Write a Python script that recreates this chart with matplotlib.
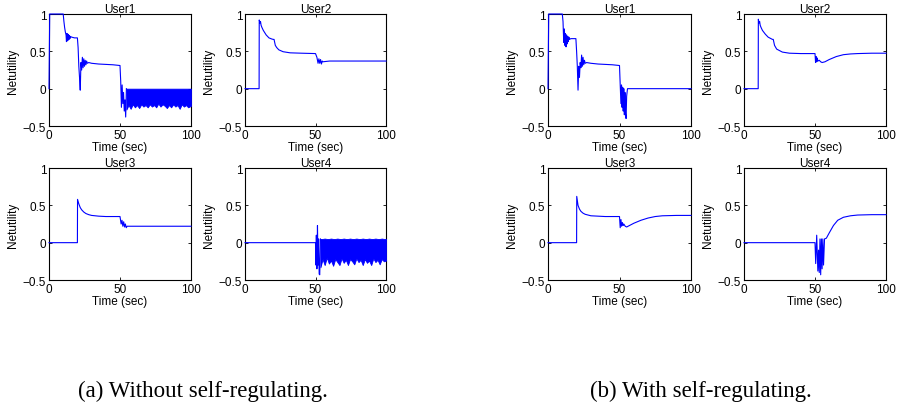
import matplotlib
matplotlib.use('Agg')
import matplotlib.pyplot as plt

# ---- data (time in sec, netutility) ----
# (a) without self-regulating
a_u1_t = [0, 0.5, 10, 10.5, 11, 11.5, 12, 12.3, 12.6, 12.9, 13.2, 13.5, 13.8, 14.1, 14.4, 14.7,
          15, 16, 18, 20, 20.5, 21, 21.5, 22, 22.5, 23, 23.5, 24, 24.5, 25, 25.5, 26, 26.5, 27,
          28, 30, 35, 40, 45, 50, 50.5, 51, 51.5, 52, 52.5, 53, 53.5, 54, 54.5]
a_u1_y = [0, 1, 1, 0.9, 0.82, 0.76, 0.72, 0.63, 0.74, 0.64, 0.73, 0.65, 0.72, 0.66, 0.71, 0.67,
          0.7, 0.69, 0.68, 0.68, 0.55, 0.3, 0.15, -0.02, 0.35, 0.25, 0.42, 0.28, 0.4, 0.3, 0.38,
          0.32, 0.37, 0.34, 0.35, 0.34, 0.33, 0.325, 0.32, 0.31, 0.1, -0.25, 0.05, -0.2, -0.05,
          -0.3, -0.15, -0.38, 0]
a_u1_band_t = [54.5, 56, 57.5, 59, 60.5, 62, 63.5, 65, 66.5, 68, 69.5, 71, 72.5, 74, 75.5, 77,
               78.5, 80, 81.5, 83, 84.5, 86, 87.5, 89, 90.5, 92, 93.5, 95, 96.5, 98, 100]
a_u1_band_hi = [0, 0, 0, 0, 0, 0, 0, 0, 0, 0, 0, 0, 0, 0, 0, 0,
                0, 0, 0, 0, 0, 0, 0, 0, 0, 0, 0, 0, 0, 0, 0]
a_u1_band_lo = [-0.28, -0.22, -0.27, -0.21, -0.25, -0.22, -0.26, -0.21, -0.24, -0.22, -0.25,
                -0.21, -0.24, -0.22, -0.25, -0.2, -0.24, -0.21, -0.23, -0.26, -0.22, -0.25,
                -0.21, -0.24, -0.22, -0.27, -0.21, -0.24, -0.22, -0.25, -0.23]

a_u2_t = [0, 10, 10.1, 10.6, 11, 11.4, 12, 13, 15, 17, 19, 20, 20.6, 21.5, 22.5, 24, 27, 32,
          40, 50, 51, 51.8, 52.4, 53, 53.6, 54.2, 54.8, 55.2, 60, 100]
a_u2_y = [0, 0, 0.92, 0.88, 0.9, 0.85, 0.82, 0.78, 0.72, 0.68, 0.665, 0.66, 0.66, 0.58, 0.55,
          0.52, 0.495, 0.48, 0.475, 0.47, 0.42, 0.34, 0.4, 0.34, 0.39, 0.33, 0.37, 0.36, 0.37, 0.37]

a_u3_t = [0, 20, 20.1, 21, 22, 23, 24.5, 26, 28, 30, 35, 40, 50, 50.8, 51.4, 52, 52.6, 53.2,
          53.8, 54.4, 55, 60, 100]
a_u3_y = [0, 0, 0.58, 0.52, 0.47, 0.44, 0.41, 0.39, 0.375, 0.365, 0.355, 0.35, 0.35, 0.25,
          0.3, 0.22, 0.28, 0.21, 0.25, 0.2, 0.22, 0.22, 0.22]

a_u4_t = [0, 50, 50.3, 50.6, 51, 51.4, 51.8, 52.2, 52.6, 53, 53.5]
a_u4_y = [0, 0, -0.3, 0.1, -0.35, 0.23, -0.3, 0.05, -0.42, -0.43, 0.05]
a_u4_band_t = [53.5, 55, 56.5, 58, 59.5, 61, 62.5, 64, 65.5, 67, 68.5, 70, 71.5, 73, 74.5, 76,
               77.5, 79, 80.5, 82, 83.5, 85, 86.5, 88, 89.5, 91, 92.5, 94, 95.5, 97, 98.5, 100]
a_u4_band_hi = [0.05, 0.05, 0.055, 0.05, 0.05, 0.055, 0.05, 0.05, 0.055, 0.05, 0.05, 0.055,
                0.05, 0.05, 0.055, 0.05, 0.05, 0.055, 0.05, 0.05, 0.055, 0.05, 0.05, 0.055,
                0.05, 0.05, 0.055, 0.05, 0.05, 0.055, 0.05, 0.05]
a_u4_band_lo = [-0.33, -0.22, -0.3, -0.2, -0.28, -0.24, -0.31, -0.22, -0.26, -0.3, -0.21,
                -0.27, -0.23, -0.3, -0.22, -0.25, -0.29, -0.21, -0.26, -0.23, -0.3, -0.22,
                -0.27, -0.24, -0.3, -0.21, -0.26, -0.23, -0.29, -0.22, -0.25, -0.24]

# (b) with self-regulating
b_u1_t = [0, 0.5, 10, 10.5, 11, 11.4, 11.8, 12.2, 12.6, 13, 13.4, 13.8, 14.2, 14.6, 15, 16,
          18, 19.5, 20, 20.5, 21, 21.5, 22, 22.5, 23, 23.5, 24, 24.5, 25, 25.5, 26, 27, 30,
          35, 40, 45, 50, 50.5, 51, 51.4, 51.8, 52.2, 52.6, 53, 53.4, 53.8, 54.2, 54.6, 55,
          55.6, 60, 100]
b_u1_y = [0, 1, 1, 0.9, 0.62, 0.8, 0.58, 0.74, 0.56, 0.72, 0.6, 0.7, 0.63, 0.69, 0.66, 0.67,
          0.67, 0.67, 0.5, 0.3, -0.02, 0.3, 0.15, 0.35, 0.28, 0.45, 0.3, 0.42, 0.32, 0.38, 0.34,
          0.35, 0.34, 0.33, 0.325, 0.32, 0.31, 0.05, -0.2, 0.05, -0.25, 0.02, -0.3, 0.0, -0.35,
          -0.05, -0.33, -0.4, -0.1, 0, 0, 0]

b_u2_t = [0, 10, 10.1, 10.6, 11, 11.4, 12, 13, 15, 17, 19, 20, 20.6, 21.5, 23, 25, 27, 32,
          40, 50, 50.4, 50.8, 51.2, 51.6, 52, 53, 54, 55, 57, 60, 65, 70, 75, 80, 90, 100]
b_u2_y = [0, 0, 0.93, 0.88, 0.9, 0.85, 0.82, 0.78, 0.73, 0.69, 0.67, 0.66, 0.66, 0.58, 0.53,
          0.51, 0.49, 0.475, 0.47, 0.47, 0.35, 0.43, 0.36, 0.41, 0.37, 0.38, 0.36, 0.35, 0.36,
          0.39, 0.43, 0.455, 0.465, 0.47, 0.475, 0.475]

b_u3_t = [0, 20, 20.1, 21, 22, 23, 24.5, 26, 28, 30, 35, 40, 50, 50.5, 51, 51.5, 52, 52.5,
          53, 54, 55, 57, 60, 65, 70, 75, 80, 90, 100]
b_u3_y = [0, 0, 0.62, 0.5, 0.45, 0.42, 0.395, 0.38, 0.37, 0.36, 0.355, 0.35, 0.35, 0.2, 0.31,
          0.22, 0.27, 0.23, 0.25, 0.22, 0.21, 0.23, 0.26, 0.3, 0.33, 0.35, 0.36, 0.365, 0.365]

b_u4_t = [0, 50, 50.5, 51.2, 52, 52.5, 53, 53.5, 54, 54.5, 55, 55.5, 56, 56.7, 58, 60, 63, 66,
          70, 75, 80, 90, 100]
b_u4_y = [0, 0, -0.28, 0.1, -0.38, -0.1, -0.4, 0.05, -0.43, 0.05, -0.35, 0.05, -0.3, 0.05,
          0.06, 0.13, 0.23, 0.3, 0.34, 0.36, 0.37, 0.375, 0.375]

titles = ['User1', 'User2', 'User3', 'User4']
x_ticks = [0, 50, 100]
y_ticks = [-0.5, 0, 0.5, 1]
y_tick_labels = ['\u22120.5', '0', '0.5', '1']
captions = ['(a) Without self-regulating.', '(b) With self-regulating.']

plt.rcParams['font.family'] = ['Liberation Sans', 'DejaVu Sans']

W, H = 897, 410
fig = plt.figure(figsize=(W / 100, H / 100), dpi=100)

# axes boxes in pixels: (left, top, right, bottom)
boxes = [
    [(49, 15, 191, 127), (245, 15, 386, 127), (49, 169, 191, 281), (245, 169, 386, 281)],
    [(548, 15, 691, 127), (744, 15, 886, 127), (548, 169, 691, 281), (744, 169, 886, 281)],
]

series = [
    [(a_u1_t, a_u1_y), (a_u2_t, a_u2_y), (a_u3_t, a_u3_y), (a_u4_t, a_u4_y)],
    [(b_u1_t, b_u1_y), (b_u2_t, b_u2_y), (b_u3_t, b_u3_y), (b_u4_t, b_u4_y)],
]
bands = {
    (0, 0): (a_u1_band_t, a_u1_band_hi, a_u1_band_lo),
    (0, 3): (a_u4_band_t, a_u4_band_hi, a_u4_band_lo),
}

blue = '#0000ff'
for g in range(2):
    for k in range(4):
        l, t, r, b = boxes[g][k]
        ax = fig.add_axes([l / W, 1 - b / H, (r - l) / W, (b - t) / H])
        xs, ys = series[g][k]
        # drawn above the spines, like the matlab export (line at y=1 stays visible)
        ax.plot(xs, ys, color=blue, lw=0.8, zorder=3, clip_on=False)
        if (g, k) in bands:
            bt, bhi, blo = bands[(g, k)]
            ax.fill_between(bt, blo, bhi, color=blue, lw=0.6, edgecolor=blue, zorder=3)
        ax.set_xlim(0, 100)
        ax.set_ylim(-0.5, 1)
        ax.set_xticks(x_ticks)
        ax.set_yticks(y_ticks)
        ax.set_yticklabels(y_tick_labels)
        ax.tick_params(direction='in', top=True, right=True, length=2.5, width=0.6,
                       labelsize=8.5, pad=2)
        for s in ax.spines.values():
            s.set_linewidth(0.8)
        ax.set_title(titles[k], fontsize=8.5, pad=1.5)
        ax.set_xlabel('Time (sec)', fontsize=8.5, labelpad=0)
        ax.set_ylabel('Netutility', fontsize=8.5, labelpad=3)

serif = ['Liberation Serif', 'DejaVu Serif']
fig.text(203 / W, 1 - 397 / H, captions[0], family=serif, fontsize=16.5,
         ha='center', va='baseline')
fig.text(701 / W, 1 - 397 / H, captions[1], family=serif, fontsize=16.5,
         ha='center', va='baseline')

fig.savefig('out.png', dpi=100)
